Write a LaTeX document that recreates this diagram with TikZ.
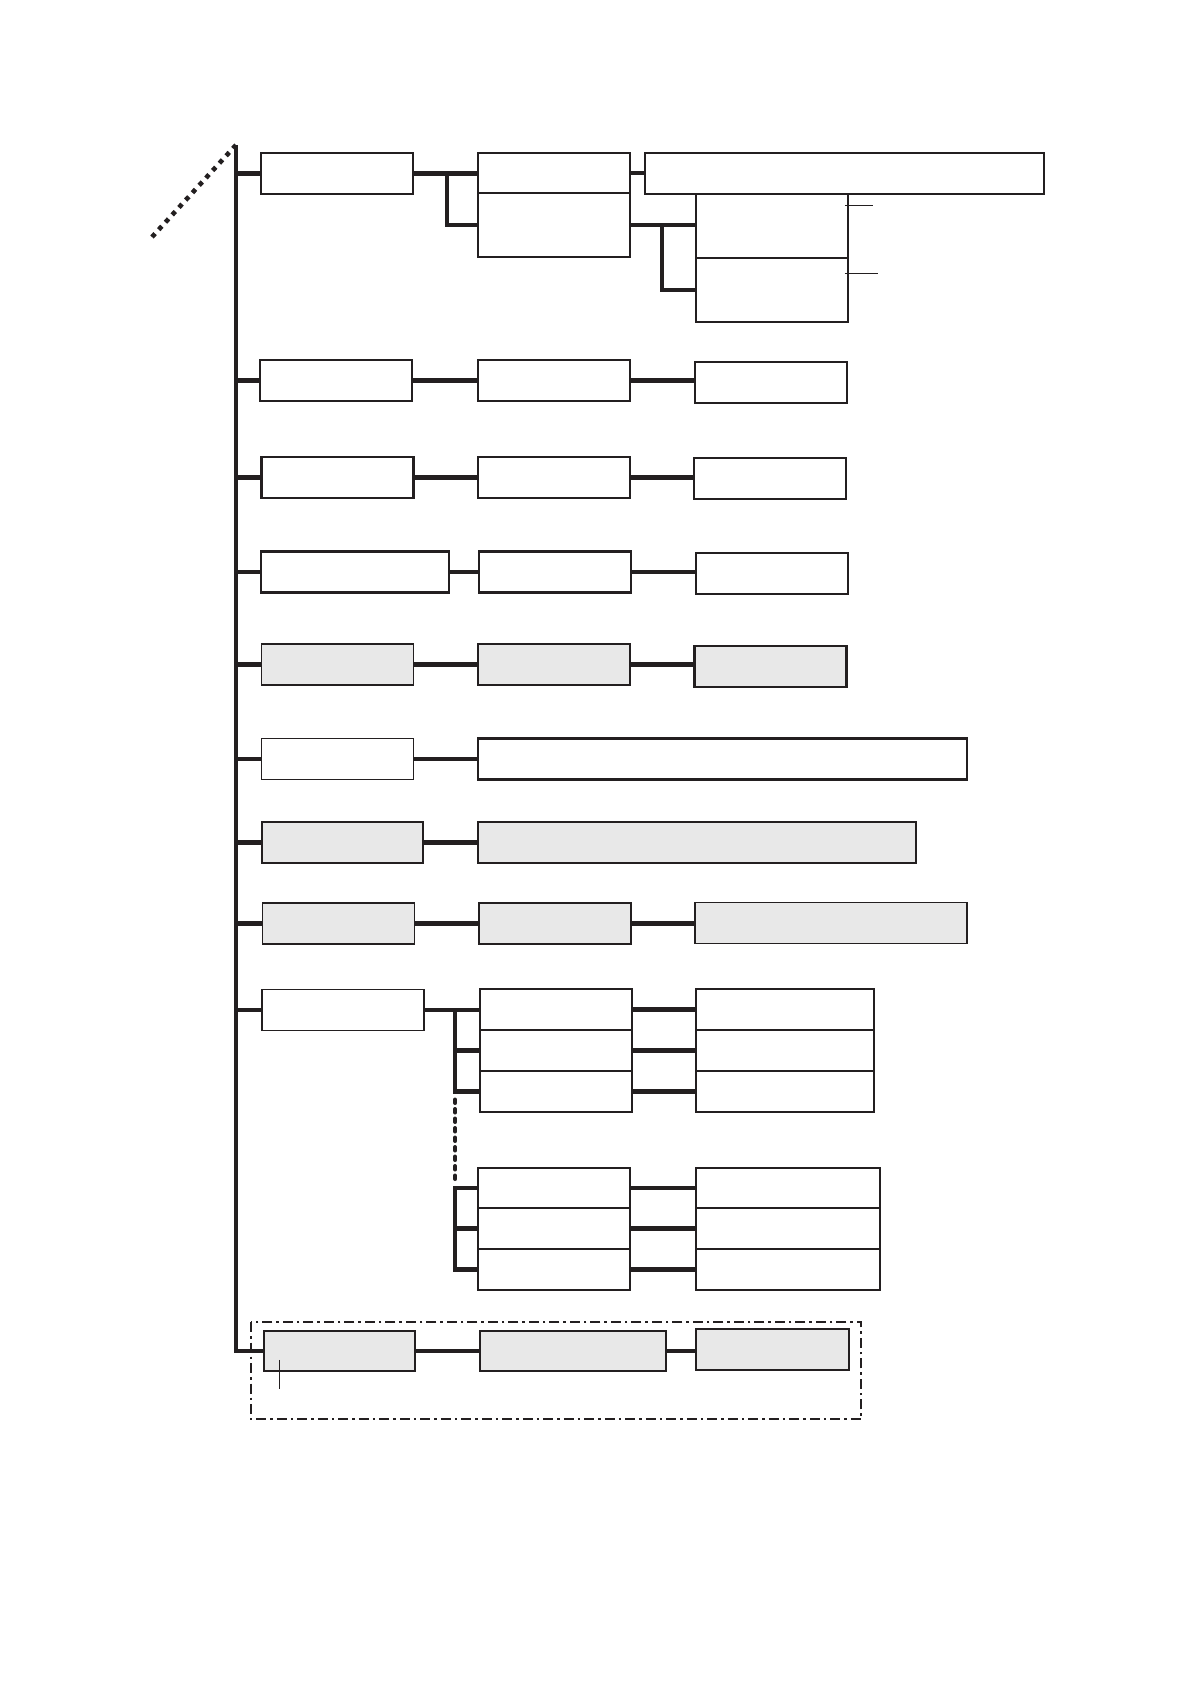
\documentclass[tikz,border=0pt]{standalone}
\usepackage{tikz}
\usetikzlibrary{calc}
\usepackage{xcolor}
\definecolor{ink}{HTML}{231F20}
\definecolor{shade}{HTML}{E8E8E8}
\tikzset{
  box/.style={draw=ink,line width=1.9pt,fill=white,inner sep=0pt,minimum width=152pt,minimum height=41pt},
  shadebox/.style={box,fill=shade},
  heavy/.style={line width=2.7pt},
  conn/.style={draw=ink,line width=4.4pt},
  dotline/.style={draw=ink,line width=4.6pt,dash pattern=on 4.6pt off 5.4pt},
  dotgap/.style={draw=ink,line width=4pt,line cap=round,dash pattern=on 3.5pt off 6pt},
  leader/.style={draw=ink,line width=1.1pt},
  groupframe/.style={draw=ink,line width=2pt,dash pattern=on 10pt off 4pt on 2.5pt off 4pt},
}

\begin{document}
\begin{tikzpicture}[x=1pt,y=-1pt]
  \useasboundingbox (0,0) rectangle (1190,1684);
  \coordinate (trunk) at (236,145);
  \coordinate (tail) at (152,237);

  % Row 1
  \node[box] (a1) at (337,173.5) {};
  \node[box,minimum height=40pt] (b1) at (554,173) {};
  \node[box,minimum height=64pt] (b1b) at (554,225) {};
  \node[box,minimum width=399pt] (c1) at (844.5,173.5) {};
  \node[box,minimum height=64pt] (c2) at (772,226) {};
  \node[box,minimum height=64pt] (c3) at (772,290) {};

  % Rows 2 to 4
  \node[box] (d1) at (336,380.5) {};
  \node[box] (d2) at (554,380.5) {};
  \node[box,heavy] (d3) at (771,382.5) {};
  \node[box,heavy] (e1) at (337.5,477.5) {};
  \node[box,heavy] (e2) at (554,477.5) {};
  \node[box] (e3) at (770,478.5) {};
  \node[box,heavy,minimum width=188pt] (f1) at (355,572) {};
  \node[box,heavy] (f2) at (555,572) {};
  \node[box] (f3) at (772,573.5) {};

  % Rows 5 to 8
  \node[shadebox] (g1) at (337.5,664.5) {};
  \node[shadebox] (g2) at (554,664.5) {};
  \node[shadebox,heavy] (g3) at (770.5,666.5) {};
  \node[box] (h1) at (337.5,759) {};
  \node[box,heavy,minimum width=489pt] (h2) at (722.5,759) {};
  \node[shadebox,heavy,minimum width=161pt] (i1) at (342.5,842.5) {};
  \node[shadebox,heavy,minimum width=438pt] (i2) at (697,842.5) {};
  \node[shadebox] (j1) at (338.5,923.5) {};
  \node[shadebox] (j2) at (555,923.5) {};
  \node[shadebox,minimum width=272pt] (j3) at (831,923) {};

  % Row 9
  \node[box,minimum width=162pt] (k1) at (343,1010) {};
  \node[box] (l1) at (556,1009.5) {};
  \node[box] (l2) at (556,1050.5) {};
  \node[box] (l3) at (556,1091.5) {};
  \node[box,minimum width=178pt] (m1) at (785,1009.5) {};
  \node[box,heavy,minimum width=178pt] (m2) at (785,1050.5) {};
  \node[box,minimum width=178pt] (m3) at (785,1091.5) {};
  \node[box,minimum height=40pt] (n1) at (554,1188) {};
  \node[box] (n2) at (554,1228.5) {};
  \node[box] (n3) at (554,1269.5) {};
  \node[box,minimum width=184pt,minimum height=40pt] (o1) at (788,1188) {};
  \node[box,minimum width=184pt] (o2) at (788,1228.5) {};
  \node[box,minimum width=184pt] (o3) at (788,1269.5) {};

  % Row 10
  \node[shadebox,minimum width=151pt,minimum height=40pt] (p1) at (339.5,1351) {};
  \node[shadebox,minimum width=186pt,minimum height=40pt] (p2) at (573,1351) {};
  \node[shadebox,heavy,minimum width=153pt] (p3) at (772.5,1349.5) {};
  \draw[groupframe] ([xshift=-12pt,yshift=8pt]p1.north west) rectangle ([xshift=11pt,yshift=-48pt]p3.south east);

  % Trunk
  \draw[dotline] (trunk) -- (tail);
  \draw[conn] (trunk) -- (trunk |- p1.west) -- (p1.west);
  \foreach \n in {a1,d1,e1,f1,g1,h1,i1,j1,k1}
    \draw[conn] (trunk |- \n.west) -- (\n.west);

  % Links
  \draw[conn] (a1.east) -- (a1.east -| b1.west);
  \draw[conn] (b1b.west) -- ++(-30,0) |- (a1.east);
  \draw[conn] (b1.east) -- (b1.east -| c1.west);
  \draw[conn] (b1b.east) -- (b1b.east -| c2.west);
  \draw[conn] (c3.west) -- ++(-33,0) |- (b1b.east);
  \foreach \a/\b in {d1/d2,d2/d3,e1/e2,e2/e3,f1/f2,f2/f3,g1/g2,g2/g3,h1/h2,i1/i2,j1/j2,j2/j3,
                     l1/m1,l2/m2,l3/m3,n1/o1,n2/o2,n3/o3,p1/p2,p2/p3}
    \draw[conn] (\a.east) -- (\a.east -| \b.west);

  % Fork of row 9
  \draw[conn] (k1.east) -- (k1.east -| l1.west);
  \coordinate (fork) at ([xshift=-24pt]l1.west);
  \draw[conn] (fork) |- (l3.west);
  \draw[conn] (fork |- l2.west) -- (l2.west);
  \draw[dotgap] ([yshift=-8pt]fork |- l3.west) -- ([yshift=8pt]fork |- n1.west);
  \draw[conn] (n1.west) -| (fork |- n3.west) -- (n3.west);
  \draw[conn] (fork |- n2.west) -- (n2.west);

  % Leaders
  \draw[leader] ([xshift=-4pt,yshift=-12pt]c2.north east) -- ++(28,0);
  \draw[leader] ([xshift=-4pt,yshift=-16pt]c3.north east) -- ++(33,0);
  \draw[leader] ([xshift=16pt,yshift=12pt]p1.south west) -- ++(0,29);
\end{tikzpicture}
\end{document}
